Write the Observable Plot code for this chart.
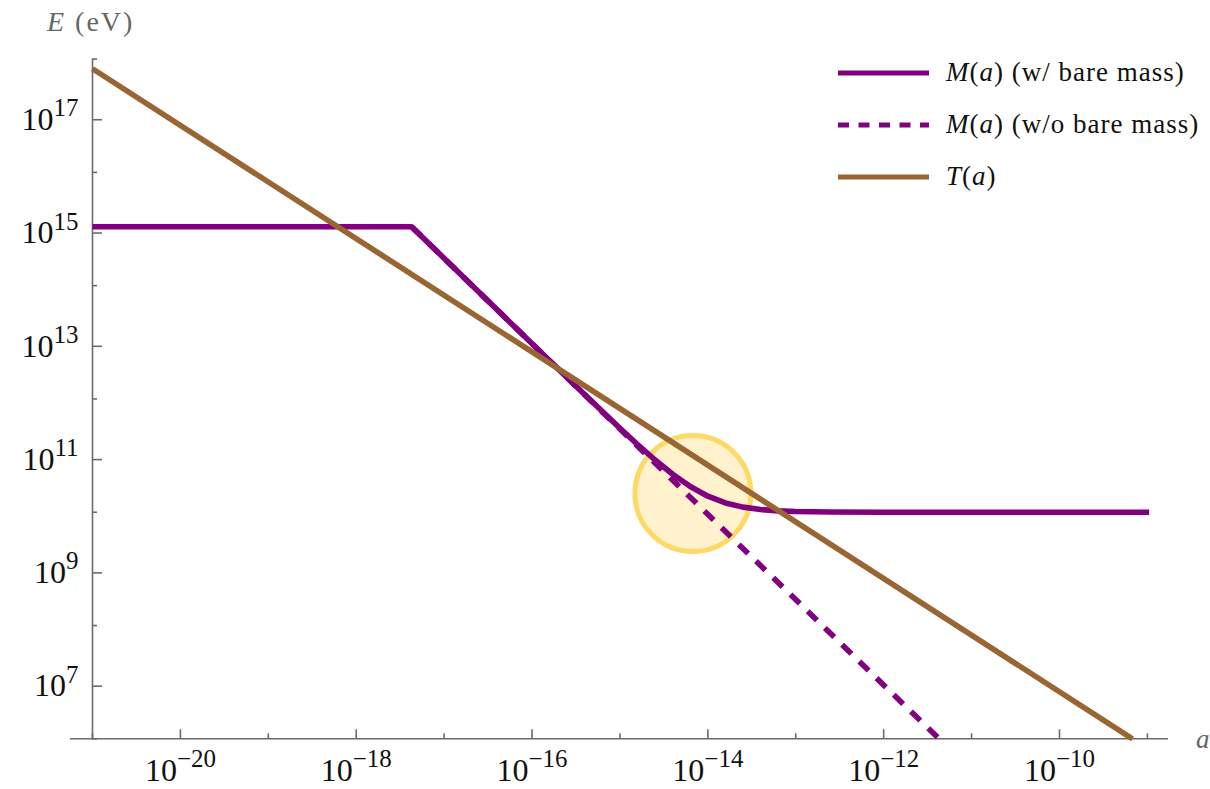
<!DOCTYPE html>
<html><head><meta charset="utf-8">
<script src="https://cdn.jsdelivr.net/npm/d3@7"></script>
<script src="https://cdn.jsdelivr.net/npm/@observablehq/plot@0.6"></script>
<style>
body{margin:0;background:#fff;font-family:"Liberation Serif","Times New Roman",serif;}
#wrap{position:relative;width:1210px;height:789px;overflow:hidden;}
#wrap > svg{position:absolute;left:0;top:0;}
.lab{position:absolute;color:#666;font-family:"Liberation Serif",serif;white-space:nowrap;line-height:1;}
.leg{position:absolute;left:838px;font-family:"Liberation Serif",serif;font-size:27px;letter-spacing:1px;color:#111;white-space:nowrap;line-height:1;}
.leg svg{position:absolute;left:0;top:0;}
.leg span{position:absolute;left:108px;top:-14px;}
</style></head><body><div id="wrap"></div>
<script>
// T(a): temperature line (log10 a, log10 E)
const logA_T = [-21, -9.17];
const logE_T = [17.83, 6.0];
// M(a) without bare mass (dashed part, from the kink)
const logA_dash = [-17.37, -11.37];
const logE_dash = [15.04, 6.0];
// M(a) with bare mass
const logA_solid = [-21, -17.37, -16.5, -15.5, -15.0, -14.8, -14.6, -14.4, -14.2, -14.0, -13.8, -13.6, -13.4, -13.2, -13.0, -12.6, -12.0, -8.98];
const logE_solid = [15.04, 15.04, 13.729, 12.225, 11.484, 11.197, 10.922, 10.670, 10.453, 10.283, 10.164, 10.090, 10.047, 10.024, 10.012, 10.003, 10.0, 10.0];
// highlight bubble
const bubbleLogA = [-14.17];
const bubbleLogE = [10.33];
// ticks (exponents)
const xMajorExp = [-20, -18, -16, -14, -12, -10];
const xMinorExp = [-21, -19, -17, -15, -13, -11, -9];
const yMajorExp = [7, 9, 11, 13, 15, 17];
const yMinorExp = [6, 8, 10, 12, 14, 16, 18];
const legendLabels = ["M(a) (w/ bare mass)", "M(a) (w/o bare mass)", "T(a)"];

const toPts = (la, le) => la.map((a, i) => ({a: 10 ** a, e: 10 ** le[i]}));
const T = toPts(logA_T, logE_T);
const Mdash = toPts(logA_dash, logE_dash);
const Msolid = toPts(logA_solid, logE_solid);
const bubble = toPts(bubbleLogA, bubbleLogE);

const purple = "#800080", brown = "#996633", axisCol = "#6b6b6b";
const fmt = d => "10^" + Math.round(Math.log10(d));
const LW = 5.6;

const chart = Plot.plot({
  width: 1210, height: 789,
  marginLeft: 92, marginRight: 42, marginTop: 58.6, marginBottom: 50.7,
  style: {fontFamily: "Liberation Serif, serif", background: "#fff", overflow: "visible"},
  x: {type: "log", domain: [1e-21, 10 ** -8.76], label: null},
  y: {type: "log", domain: [1e6, 1e18], label: null},
  marks: [
    Plot.dot(bubble, {x: "a", y: "e", r: 58, fill: "#FFF2CC", stroke: "#FFD966", strokeWidth: 5}),
    Plot.ruleX([1e-21], {stroke: axisCol, strokeWidth: 1.6}),
    Plot.ruleY([1e6], {stroke: axisCol, strokeWidth: 1.6, insetLeft: -22}),
    Plot.axisX(xMajorExp.map(e => 10 ** e), {label: null, tickSize: -9, tickPadding: 28, tickFormat: fmt, stroke: axisCol, strokeWidth: 1.6, fill: "#111"}),
    Plot.axisX(xMinorExp.map(e => 10 ** e), {label: null, tickSize: -5, tickFormat: () => "", stroke: axisCol, strokeWidth: 1.6}),
    Plot.axisY(yMajorExp.map(e => 10 ** e), {label: null, tickSize: -10, tickPadding: 24, tickFormat: fmt, dy: 4, stroke: axisCol, strokeWidth: 1.6, fill: "#111"}),
    Plot.axisY(yMinorExp.map(e => 10 ** e), {label: null, tickSize: -5, tickFormat: () => "", stroke: axisCol, strokeWidth: 1.6}),
    Plot.line(Mdash, {x: "a", y: "e", stroke: purple, strokeWidth: LW, strokeDasharray: "13,11", strokeLinecap: "butt"}),
    Plot.line(Msolid, {x: "a", y: "e", stroke: purple, strokeWidth: LW, strokeLinecap: "butt"}),
    Plot.line(T, {x: "a", y: "e", stroke: brown, strokeWidth: LW, strokeLinecap: "butt"})
  ]
});

// superscript exponents, larger serif tick labels
d3.select(chart).selectAll("text").each(function() {
  const t = this.textContent;
  if (t.startsWith("10^")) {
    const ex = t.slice(3).replace("-", "\u2212");
    this.setAttribute("font-size", "32");
    this.setAttribute("font-family", "Liberation Serif, serif");
    this.textContent = "10";
    const ts = document.createElementNS("http://www.w3.org/2000/svg", "tspan");
    ts.setAttribute("dy", "-0.55em");
    ts.setAttribute("font-size", "0.78em");
    ts.textContent = ex;
    this.appendChild(ts);
  }
});

const wrap = document.getElementById("wrap");
wrap.appendChild(chart);

function addLabel(html, left, top, size, ls) {
  const d = document.createElement("div");
  d.className = "lab";
  d.style.left = left + "px"; d.style.top = top + "px"; d.style.fontSize = size + "px";
  if (ls) d.style.letterSpacing = ls + "px";
  d.innerHTML = html;
  wrap.appendChild(d);
}
addLabel("<i>E</i> (eV)", 47, 8, 28, 2);
addLabel("<i>a</i>", 1196, 726, 27);

const legY = [73, 125, 177];
const legStyles = [{c: purple, dash: null}, {c: purple, dash: "11,9.5"}, {c: brown, dash: null}];
legendLabels.forEach((lab, i) => {
  const d = document.createElement("div");
  d.className = "leg";
  d.style.top = legY[i] + "px";
  const s = legStyles[i];
  d.innerHTML = `<svg width="95" height="6" style="top:-3px"><line x1="0" x2="91" y1="3" y2="3" stroke="${s.c}" stroke-width="5" ${s.dash ? `stroke-dasharray="${s.dash}"` : ""}/></svg>` +
    `<span>${lab.replace(/^([MT])\(a\)/, "<i>$1</i>(<i>a</i>)")}</span>`;
  wrap.appendChild(d);
});
</script></body></html>
